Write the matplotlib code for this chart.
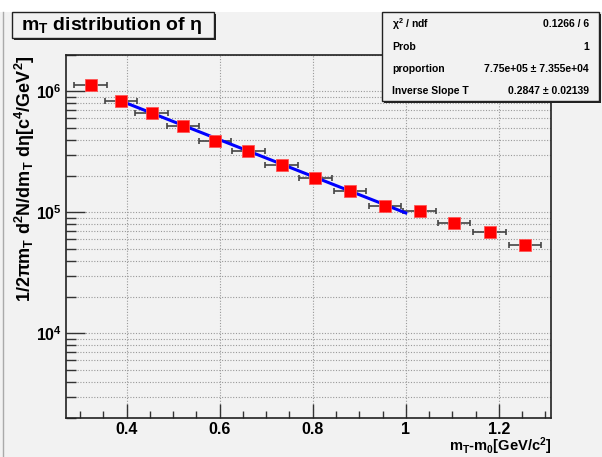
import matplotlib
matplotlib.use("Agg")
import matplotlib.pyplot as plt
from matplotlib.patches import Rectangle
from matplotlib.lines import Line2D
from matplotlib.ticker import LogLocator, FixedLocator, FixedFormatter, NullFormatter

plt.rcParams['font.family'] = ['Liberation Sans', 'DejaVu Sans']
plt.rcParams['font.weight'] = 'bold'
plt.rcParams['mathtext.fontset'] = 'custom'
plt.rcParams['mathtext.rm'] = 'Liberation Sans'
plt.rcParams['mathtext.bf'] = 'Liberation Sans:bold'
plt.rcParams['mathtext.it'] = 'Liberation Sans:bold'

# data points (mT - m0, yield)
mt = [0.323, 0.388, 0.454, 0.521, 0.590, 0.662, 0.733, 0.806, 0.880,
      0.955, 1.030, 1.104, 1.180, 1.256]
yld = [1.13e6, 8.3e5, 6.6e5, 5.15e5, 3.93e5, 3.2e5, 2.45e5, 1.94e5, 1.51e5,
       1.14e5, 1.03e5, 8.1e4, 6.85e4, 5.35e4]
mt_err = [0.035] * len(mt)

# fit line endpoints (exponential -> straight on log scale)
fit_x = [0.4, 1.0]
fit_y = [8.0e5, 9.9e4]

stat_names = [r"$\mathrm{\chi}^\mathbf{2}$ / ndf", "Prob", "proportion", "Inverse Slope T"]
stat_values = ["0.1266 / 6", "1", "7.75e+05 \u00b1 7.355e+04", "0.2847 \u00b1 0.02139"]

xticks = [0.4, 0.6, 0.8, 1.0, 1.2]
xticklabels = ["0.4", "0.6", "0.8", "1", "1.2"]
ydecades = [1e4, 1e5, 1e6]
yticklabels = [r"$\mathbf{10^{4}}$", r"$\mathbf{10^{5}}$", r"$\mathbf{10^{6}}$"]

W, H = 602, 457
bg = "#f2f2f2"
fig = plt.figure(figsize=(W / 100, H / 100), dpi=100, facecolor="white")

# canvas background + left border line
fig.patches.append(Rectangle((0, 0), 1, (H - 12) / H, transform=fig.transFigure,
                             facecolor=bg, edgecolor="none", zorder=-5))
fig.lines.append(Line2D([3 / W, 3 / W], [0, (H - 12) / H], transform=fig.transFigure,
                        color="#aaaaaa", lw=1.0, zorder=-4))

ax = fig.add_axes([66 / W, (H - 418) / H, (551 - 66) / W, (418 - 55) / H])
ax.set_facecolor(bg)
ax.set_yscale("log")
ax.set_xlim(0.27, 1.312)
ax.set_ylim(2e3, 2e6)

# ticks and grid
ax.xaxis.set_major_locator(FixedLocator(xticks))
ax.xaxis.set_major_formatter(FixedFormatter(xticklabels))
ax.xaxis.set_minor_locator(FixedLocator([0.3 + 0.05 * i for i in range(21)]))
ax.yaxis.set_major_locator(FixedLocator(ydecades))
ax.yaxis.set_major_formatter(FixedFormatter(yticklabels))
ax.yaxis.set_minor_locator(LogLocator(base=10, subs=range(2, 10)))
ax.yaxis.set_minor_formatter(NullFormatter())
ax.grid(True, which="major", axis="x", color="#999999", ls=(0, (1, 1.5)), lw=0.8)
ax.grid(True, which="both", axis="y", color="#999999", ls=(0, (1, 1.5)), lw=0.8)

ax.tick_params(axis="both", which="both", direction="in", top=False, right=False,
               color="#333333")
ax.tick_params(axis="x", which="major", length=10, width=1, pad=3, labelsize=11.5)
ax.tick_params(axis="x", which="minor", length=5, width=1)
ax.tick_params(axis="y", which="major", length=14, width=1, pad=3, labelsize=11.5)
ax.tick_params(axis="y", which="minor", length=7, width=1)
for s in ax.spines.values():
    s.set_linewidth(1.2)
    s.set_color("#222222")

# error bars, fit and markers
ax.errorbar(mt, yld, xerr=mt_err, fmt="none", ecolor="#444444", elinewidth=1.2,
            capsize=2, capthick=1.2, zorder=3)
ax.plot(fit_x, fit_y, color="#0000ff", lw=2.2, zorder=4)
ax.plot(mt, yld, ls="none", marker="s", ms=8, color="#ff0000", mec="#ff5555",
        mew=0.6, zorder=5)

# axis titles (ROOT style, aligned to the axis end)
fig.text(551 / W, 1 - 451 / H, r"$\mathbf{m_T}$-$\mathbf{m_0}$[GeV/c$^\mathbf{2}$]",
         fontsize=10.5, fontweight="bold", ha="right", va="baseline")
fig.text(25 / W, 1 - 55 / H,
         r"1/2$\mathrm{\pi}$$\mathbf{m_T}$ $\mathbf{d^2N/dm_T}$ d$\mathrm{\eta}$[c$^\mathbf{4}$/GeV$^\mathbf{2}$]",
         fontsize=13, fontweight="bold", rotation=90, ha="center", va="top")


def pave(x0, y0, x1, y1):
    fig.patches.append(Rectangle(((x0 + 2) / W, 1 - (y1 + 2) / H), (x1 - x0) / W, (y1 - y0) / H,
                                 transform=fig.transFigure, facecolor="#222222",
                                 edgecolor="none", zorder=5))
    fig.patches.append(Rectangle((x0 / W, 1 - y1 / H), (x1 - x0) / W, (y1 - y0) / H,
                                 transform=fig.transFigure, facecolor=bg,
                                 edgecolor="#222222", lw=1.0, zorder=6))


# title box
pave(12, 12, 214, 38)
fig.text(21 / W, 1 - 25 / H, r"$\mathbf{m_T}$ distribution of $\mathrm{\eta}$", fontsize=14,
         va="center", ha="left", zorder=7)

# stats box
pave(382, 12, 599, 101)
rows_y = [24, 46.5, 69.5, 91.5]
for name, val, yy in zip(stat_names, stat_values, rows_y):
    fig.text(392 / W, 1 - yy / H, name, fontsize=7.5, va="center", ha="left", zorder=7)
    fig.text(589 / W, 1 - yy / H, val, fontsize=7.5, va="center", ha="right", zorder=7)

fig.savefig("out.png", dpi=100, facecolor=fig.get_facecolor())
